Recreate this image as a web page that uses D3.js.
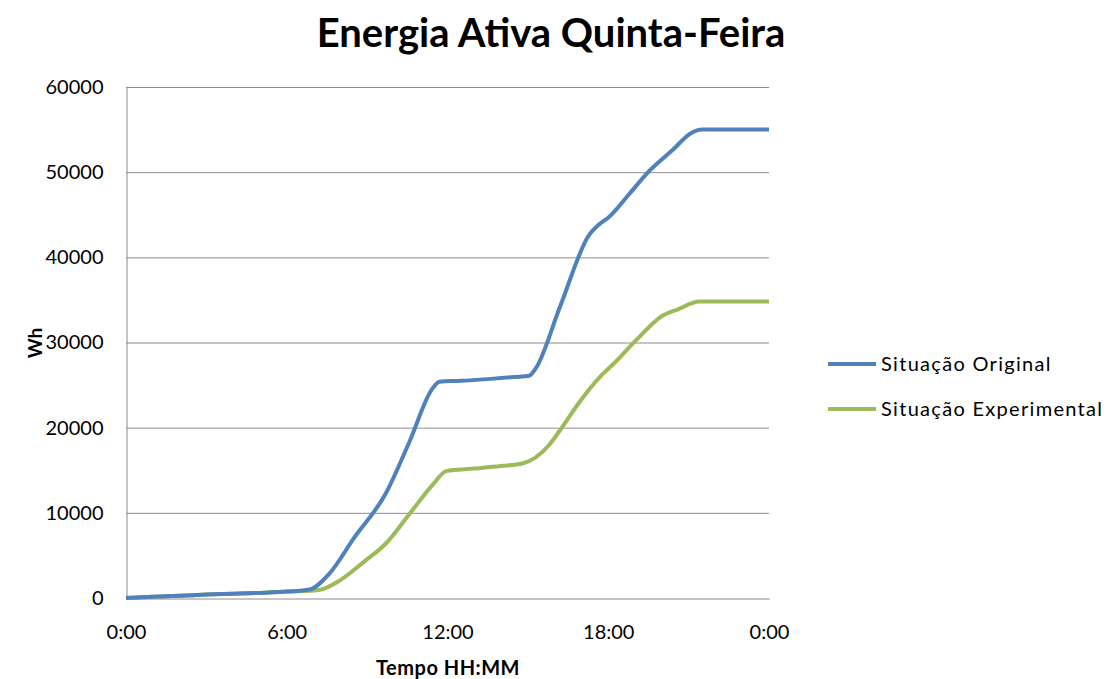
<!DOCTYPE html>
<html>
<head>
<meta charset="utf-8">
<script src="https://cdn.jsdelivr.net/npm/d3@7"></script>
<style>
  body { margin: 0; background: #fff; }
  svg text { font-family: Lato, "Open Sans", sans-serif; fill: #000; }
</style>
</head>
<body>
<svg id="chart" width="1109" height="679"></svg>
<script>
// horas do dia (0-24) e energia acumulada em Wh
const hoursOriginal = [0, 1, 2, 3, 4, 5, 6, 6.85, 7.6, 8.5, 9.7, 10.6, 11.4, 11.7, 12.5, 13.5, 14.5, 15.05, 15.3, 16.2, 17.3, 17.6, 18.05, 18.8, 19.55, 20.4, 21.1, 21.5, 24];
const whOriginal    = [0, 150, 250, 400, 500, 600, 750, 1000, 2900, 7000, 12300, 18500, 24400, 25400, 25500, 25700, 25950, 26100, 27000, 34200, 42700, 43700, 44800, 47500, 50200, 52600, 54600, 55000, 55000];

const hoursExperimental = [0, 1, 2, 3, 4, 5, 6, 7.2, 8.0, 8.9, 9.7, 10.6, 11.5, 11.95, 13, 14, 14.8, 15.8, 16.2, 16.9, 17.7, 18.2, 19.05, 20.05, 20.6, 21.4, 24];
const whExperimental    = [0, 150, 250, 400, 500, 600, 750, 950, 2100, 4300, 6400, 9950, 13500, 14900, 15200, 15500, 15800, 18000, 19700, 22900, 26000, 27500, 30300, 33200, 33900, 34800, 34800];

const xTicks = [0, 6, 12, 18, 24];
const xTickLabels = ['0:00', '6:00', '12:00', '18:00', '0:00'];
const yTicks = [0, 10000, 20000, 30000, 40000, 50000, 60000];

const seriesNames = ['Situação Original', 'Situação Experimental'];
const seriesColors = ['#4f81bd', '#9bbb59'];

const svg = d3.select('#chart');
const m = { l: 126, r: 769, t: 87, b: 598 };

const x = d3.scaleLinear().domain([0, 24]).range([m.l, m.r]);
const y = d3.scaleLinear().domain([0, 60000]).range([m.b, m.t]);

// grid
svg.append('g').selectAll('line')
  .data(yTicks.filter(d => d > 0))
  .join('line')
    .attr('x1', m.l).attr('x2', m.r)
    .attr('y1', d => y(d) + 0.5).attr('y2', d => y(d) + 0.5)
    .attr('stroke', '#8c8c8c').attr('stroke-width', 1);

// axes
const yAxis = svg.append('g').attr('transform', `translate(${m.l + 0.5},0)`)
  .call(d3.axisLeft(y).tickValues(yTicks).tickSize(0).tickPadding(23).tickFormat(d3.format('d')));
const xAxis = svg.append('g').attr('transform', `translate(0,${m.b + 0.5})`)
  .call(d3.axisBottom(x).tickValues(xTicks).tickSize(0).tickPadding(26)
    .tickFormat((d, i) => xTickLabels[i]));
[yAxis, xAxis].forEach(a => {
  a.select('.domain').attr('stroke', '#8c8c8c').attr('stroke-width', 1);
  a.selectAll('text').style('font-size', '20px').attr('fill', '#000');
});

// lines
const line = d3.line()
  .x(d => x(d[0]))
  .y(d => y(d[1]))
  .curve(d3.curveMonotoneX);

const data = [
  hoursOriginal.map((h, i) => [h, whOriginal[i]]),
  hoursExperimental.map((h, i) => [h, whExperimental[i]])
];

// experimental drawn first so original sits on top near zero
[1, 0].forEach(i => {
  svg.append('path').datum(data[i])
    .attr('fill', 'none')
    .attr('stroke', seriesColors[i])
    .attr('stroke-width', 4)
    .attr('stroke-linejoin', 'round')
    .attr('d', line);
});

// title
svg.append('text')
  .attr('x', 551).attr('y', 47)
  .attr('text-anchor', 'middle')
  .style('font-size', '40px').style('font-weight', 'bold')
  .text('Energia Ativa Quinta-Feira');

// axis titles
svg.append('text')
  .attr('x', 448).attr('y', 675)
  .attr('text-anchor', 'middle')
  .style('font-size', '20px').style('font-weight', 'bold')
  .style('letter-spacing', '0.5px')
  .text('Tempo HH:MM');

svg.append('text')
  .attr('transform', 'translate(42,343) rotate(-90)')
  .attr('text-anchor', 'middle')
  .style('font-size', '19px').style('font-weight', 'bold')
  .text('Wh');

// legend
const legend = svg.append('g').attr('transform', 'translate(828,364)');
seriesNames.forEach((name, i) => {
  const row = legend.append('g').attr('transform', `translate(0,${i * 45})`);
  row.append('line')
    .attr('x1', 0).attr('x2', 48)
    .attr('stroke', seriesColors[i]).attr('stroke-width', 4);
  row.append('text')
    .attr('x', 53).attr('y', 7)
    .style('font-size', '20px')
    .style('letter-spacing', '1.3px')
    .text(name);
});
</script>
</body>
</html>
